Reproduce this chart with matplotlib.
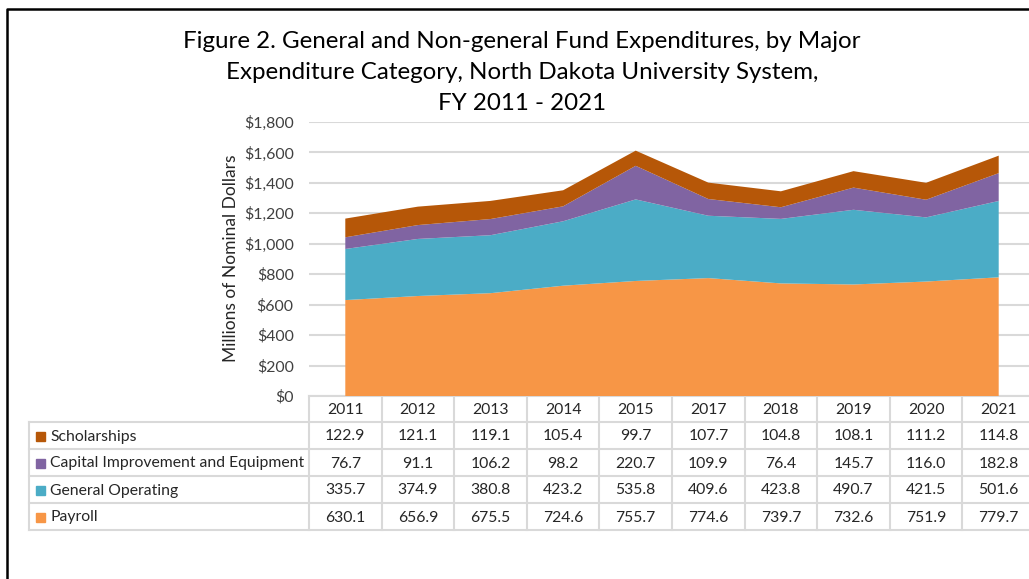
import matplotlib
matplotlib.use("Agg")
import matplotlib.pyplot as plt
from matplotlib.lines import Line2D
from matplotlib.patches import Rectangle

plt.rcParams['font.family'] = ['Lato', 'DejaVu Sans']

years = ["2011", "2012", "2013", "2014", "2015", "2017", "2018", "2019", "2020", "2021"]
payroll = [630.1, 656.9, 675.5, 724.6, 755.7, 774.6, 739.7, 732.6, 751.9, 779.7]
general_operating = [335.7, 374.9, 380.8, 423.2, 535.8, 409.6, 423.8, 490.7, 421.5, 501.6]
capital = [76.7, 91.1, 106.2, 98.2, 220.7, 109.9, 76.4, 145.7, 116.0, 182.8]
scholarships = [122.9, 121.1, 119.1, 105.4, 99.7, 107.7, 104.8, 108.1, 111.2, 114.8]

series_names = ["Scholarships", "Capital Improvement and Equipment", "General Operating", "Payroll"]
series_values = [scholarships, capital, general_operating, payroll]
series_colors = ["#B65708", "#8064A2", "#4BACC6", "#F79646"]
y_ticks = [0, 200, 400, 600, 800, 1000, 1200, 1400, 1600, 1800]
title_lines = ["Figure 2. General and Non-general Fund Expenditures, by Major",
               "Expenditure Category, North Dakota University System,",
               "FY 2011 - 2021"]

W, H = 1029, 579
fig = plt.figure(figsize=(W / 100, H / 100), dpi=100)

def fx(px):
    return px / W

def fy(py):
    return 1 - py / H

grid_c = "#D9D9D9"
text_c = "#404040"

col_x0, col_w = 309, 72.6
n = len(years)
ax_top, ax_bot = 122, 396

ax = fig.add_axes([fx(col_x0), fy(ax_bot), n * col_w / W, (ax_bot - ax_top) / H])
x = list(range(n))
ax.stackplot(x, payroll, general_operating, capital, scholarships,
             colors=series_colors[::-1], linewidth=0, zorder=3)
ax.set_xlim(-0.5, n - 0.5)
ax.set_ylim(0, 1800)
ax.set_yticks(y_ticks)
ax.set_yticklabels([f"${v:,}" for v in y_ticks])
ax.set_xticks([])
ax.grid(axis='y', color=grid_c, lw=1.5)
ax.set_axisbelow(True)
for s in ["left", "right", "top"]:
    ax.spines[s].set_visible(False)
ax.spines["bottom"].set_color(grid_c)
ax.spines["bottom"].set_linewidth(1.5)
ax.tick_params(axis='y', length=0, pad=11, labelsize=11.4, labelcolor=text_c)

fig.text(fx(231), fy(258), "Millions of Nominal Dollars", rotation=90,
         ha="center", va="center", fontsize=12.5, color="#262626")

for i, line in enumerate(title_lines):
    fig.text(fx(522), fy(42 + i * 30.5), line, ha="center", va="center",
             fontsize=17.4, color="#000000")

# table overlay
tab = fig.add_axes([0, 0, 1, 1], zorder=-1)
tab.set_xlim(0, W)
tab.set_ylim(H, 0)
tab.axis("off")

row_edges = [396, 422, 449, 476, 503, 530]
tbl_left = 29
right_edge = col_x0 + n * col_w
for i, yv in enumerate(row_edges[1:]):
    tab.add_line(Line2D([tbl_left, right_edge], [yv, yv], color=grid_c, lw=1.5))
for j in range(n + 1):
    xv = col_x0 + j * col_w
    tab.add_line(Line2D([xv, xv], [row_edges[0], row_edges[-1]], color=grid_c, lw=1.5))
tab.add_line(Line2D([tbl_left, tbl_left], [row_edges[1], row_edges[-1]], color=grid_c, lw=1.5))

for j, yr in enumerate(years):
    tab.text(col_x0 + (j + 0.5) * col_w, (row_edges[0] + row_edges[1]) / 2 + 1, yr,
             ha="center", va="center", fontsize=11.3, color="#262626")

for r, (name, vals, c) in enumerate(zip(series_names, series_values, series_colors)):
    yc = (row_edges[r + 1] + row_edges[r + 2]) / 2 + 1
    tab.add_patch(Rectangle((36, yc - 4.5), 9, 9, color=c))
    tab.text(50, yc, name, ha="left", va="center", fontsize=11.3, color="#262626")
    for j, v in enumerate(vals):
        tab.text(col_x0 + (j + 0.5) * col_w, yc, f"{v:.1f}", ha="center", va="center",
                 fontsize=11.3, color="#262626")

# outer border
tab.add_line(Line2D([7, 7, W + 5], [H + 5, 9, 9], color="black", lw=1.8))

fig.savefig("out.png", dpi=100)
